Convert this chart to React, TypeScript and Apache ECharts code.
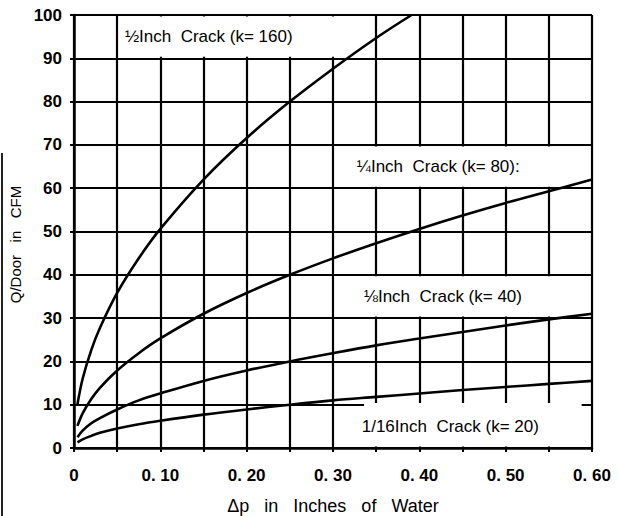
import React, { useEffect, useRef } from "react";
import * as echarts from "echarts";

// Readings from the chart (Δp in inches of water, Q per door in CFM)
const dpHalf = [0.004, 0.01, 0.02, 0.03, 0.05, 0.075, 0.1, 0.15, 0.2, 0.25, 0.3, 0.35, 0.391];
const qHalf = [10.1, 16, 22.6, 27.7, 35.8, 43.8, 50.6, 62, 71.6, 80, 87.6, 94.7, 100];

const dpOther = [0.004, 0.01, 0.02, 0.03, 0.05, 0.075, 0.1, 0.15, 0.2, 0.25, 0.3, 0.35, 0.4, 0.45, 0.5, 0.55, 0.6];
const qQuarter = [5.1, 8, 11.3, 13.9, 17.9, 21.9, 25.3, 31, 35.8, 40, 43.8, 47.3, 50.6, 53.7, 56.6, 59.3, 62];
const qEighth = [2.5, 4, 5.7, 6.9, 8.9, 11, 12.6, 15.5, 17.9, 20, 21.9, 23.7, 25.3, 26.8, 28.3, 29.7, 31];
const qSixteenth = [1.3, 2, 2.8, 3.5, 4.5, 5.5, 6.3, 7.7, 8.9, 10, 11, 11.8, 12.6, 13.4, 14.1, 14.8, 15.5];

const xTickLabels = ["0", "0. 10", "0. 20", "0. 30", "0. 40", "0. 50", "0. 60"];
const curveLabels = [
  "\u00BDInch  Crack (k= 160)",
  "\u00BCInch  Crack (k= 80):",
  "\u215BInch  Crack (k= 40)",
  "1/16Inch  Crack (k= 20)",
];

const SANS = "'Liberation Sans', Arial, sans-serif";

function pairs(xs: number[], ys: number[]) {
  return xs.map((x, i) => [x, ys[i]]);
}

export default function App() {
  const ref = useRef<HTMLDivElement>(null);
  useEffect(() => {
    if (!ref.current) return;
    const chart = echarts.init(ref.current, undefined, { renderer: "svg" });
    const curveStyle = { color: "#000", width: 2.6 };
    const boxLabel = (text: string, dist: number) => ({
      show: true,
      position: "insideLeft",
      distance: dist,
      formatter: text,
      color: "#000",
      fontSize: 17,
      fontFamily: SANS,
    });
    const white = { color: "#fff", opacity: 1 };
    chart.setOption({
      animation: false,
      backgroundColor: "#fff",
      grid: { left: 74, right: 27, top: 15, bottom: 68, containLabel: false, outerBoundsMode: "none" },
      xAxis: {
        type: "value",
        min: 0,
        max: 0.6,
        interval: 0.05,
        name: "\u0394p   in   Inches   of   Water",
        nameLocation: "middle",
        nameGap: 49,
        nameTextStyle: { color: "#000", fontSize: 18, fontFamily: SANS },
        axisLine: { show: true, onZero: false, lineStyle: { color: "#000", width: 2.5 } },
        axisTick: { show: true, length: 4, lineStyle: { color: "#000", width: 2 } },
        splitLine: { show: true, lineStyle: { color: "#000", width: 2.2 } },
        axisLabel: {
          color: "#000",
          fontSize: 17,
          fontWeight: "bold",
          fontFamily: SANS,
          margin: 19,
          showMaxLabel: true,
          formatter: (v: number) => {
            const n = Math.round(v * 100);
            return n % 10 === 0 ? xTickLabels[n / 10] : "";
          },
        },
      },
      yAxis: {
        type: "value",
        min: 0,
        max: 100,
        interval: 10,
        name: "Q/Door   in   CFM",
        nameLocation: "middle",
        nameGap: 45,
        nameRotate: 90,
        nameTextStyle: { color: "#000", fontSize: 15, fontFamily: SANS, padding: [0, 26, 0, 0] },
        axisLine: { show: true, onZero: false, lineStyle: { color: "#000", width: 2.5 } },
        axisTick: { show: true, length: 4, lineStyle: { color: "#000", width: 2 } },
        splitLine: { show: true, lineStyle: { color: "#000", width: 2.2 } },
        axisLabel: {
          color: "#000",
          fontSize: 17,
          fontWeight: "bold",
          fontFamily: SANS,
          margin: 12,
        },
      },
      graphic: [
        {
          type: "line",
          shape: { x1: 2, y1: 153, x2: 2, y2: 516 },
          style: { stroke: "#222", lineWidth: 2 },
        },
      ],
      series: [
        {
          type: "line",
          data: [],
          z: 1,
          silent: true,
          markArea: {
            silent: true,
            itemStyle: white,
            data: [
              [
                { xAxis: 0.052, yAxis: 90.35, label: boxLabel(curveLabels[0], 6) },
                { xAxis: 0.33, yAxis: 99.65 },
              ],
              [
                { xAxis: 0.302, yAxis: 60.35, label: boxLabel(curveLabels[1], 22) },
                { xAxis: 0.598, yAxis: 69.65 },
              ],
              [
                { xAxis: 0.302, yAxis: 30.35, label: boxLabel(curveLabels[2], 29) },
                { xAxis: 0.598, yAxis: 39.65 },
              ],
              [
                { xAxis: 0.302, yAxis: 0.35, label: boxLabel(curveLabels[3], 27) },
                { xAxis: 0.598, yAxis: 9.65 },
              ],
              [
                { xAxis: 0.336, yAxis: 9.5 },
                { xAxis: 0.588, yAxis: 10.4 },
              ],
            ],
          },
        },
        {
          type: "line",
          z: 3,
          data: pairs(dpHalf, qHalf),
          smooth: 0.35,
          showSymbol: false,
          lineStyle: curveStyle,
        },
        {
          type: "line",
          z: 3,
          data: pairs(dpOther, qQuarter),
          smooth: 0.35,
          showSymbol: false,
          lineStyle: curveStyle,
        },
        {
          type: "line",
          z: 3,
          data: pairs(dpOther, qEighth),
          smooth: 0.35,
          showSymbol: false,
          lineStyle: curveStyle,
        },
        {
          type: "line",
          z: 3,
          data: pairs(dpOther, qSixteenth),
          smooth: 0.35,
          showSymbol: false,
          lineStyle: curveStyle,
        },
      ],
    });
    return () => chart.dispose();
  }, []);
  return <div ref={ref} style={{ width: 619, height: 516, position: "absolute", left: 0, top: 0 }} />;
}
